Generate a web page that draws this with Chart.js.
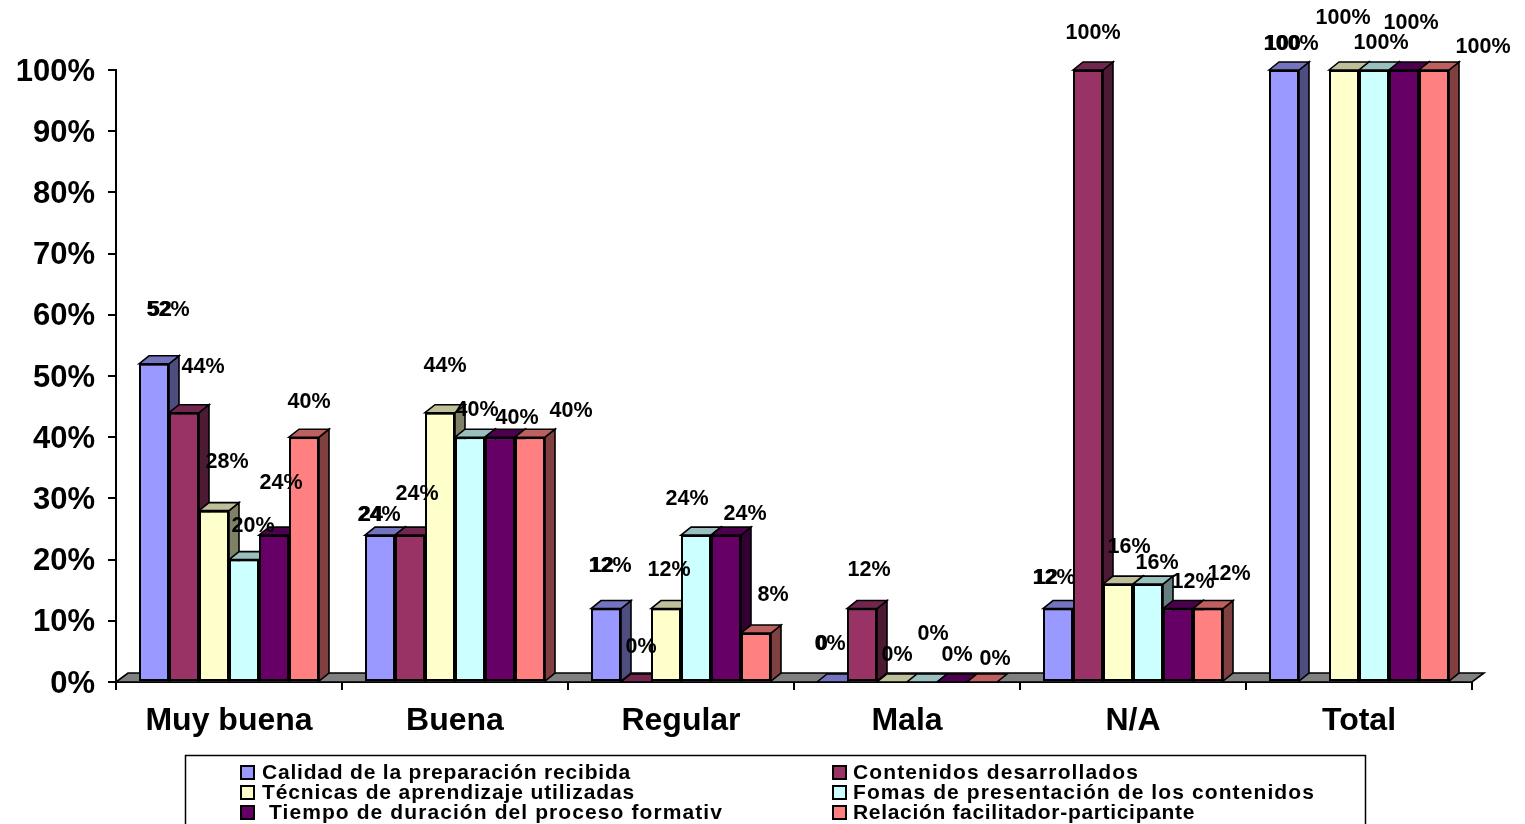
<!DOCTYPE html>
<html><head><meta charset="utf-8">
<script src="https://cdn.jsdelivr.net/npm/chart.js@4"></script>
<style>html,body{margin:0;padding:0;background:#fff;overflow:hidden}canvas{display:block}</style>
</head><body><canvas id="c" width="1525" height="824"></canvas>
<script>
const categories = ['Muy buena','Buena','Regular','Mala','N/A','Total'];
const seriesNames = ['Calidad de la preparación recibida','Contenidos desarrollados','Técnicas de aprendizaje utilizadas','Fomas de presentación de los contenidos',' Tiempo de duración del proceso formativ','Relación facilitador-participante'];
const calidad    = [52,24,12,0,12,100];
const contenidos = [44,24,0,12,100,null];
const tecnicas   = [28,44,12,0,16,100];
const formas     = [20,40,24,0,16,100];
const tiempo     = [24,40,24,0,12,100];
const relacion   = [40,40,8,0,12,100];
const seriesValues = [calidad,contenidos,tecnicas,formas,tiempo,relacion];
const seriesColors = ['#9999FF','#993366','#FFFFCC','#CCFFFF','#660066','#FF8080'];
const yTicks = [0,10,20,30,40,50,60,70,80,90,100];

// Hand-placed value label nudges from the top of each bar, as in the reference.
const labelNudges = [
  [[14,-54],[-1,-20],[4,-42],[-2,-38],[-4,-30],[7,-26]],
  [[19,-46],[7,-41],[5,-35],[7,-38],[5,-37],null],
  [[13,-49],[5,-47],[3,-38],[5,-27],[11,-37],[-1,-52]],
  [[9,-34],[7,-27],[-9,-36],[11,-48],[9,-21],[7,-27]],
  [[7,-52],[17,-19],[19,-21],[5,-27],[15,-26],[7,-47]],
  [[5,-35],[41,-26],[17,-38],[13,-23],[21,-34],[49,-23]]
];
const legendTextWidths = [369,286,373,462,461,342];
const DEPTH_X = 10, DEPTH_Y = 8, FLOOR_X = 12, FLOOR_Y = 9;
const FONT = '"Liberation Sans", Arial, sans-serif';

function shade(hex, k){
  const n = parseInt(hex.slice(1),16);
  return `rgb(${Math.round((n>>16&255)*k)},${Math.round((n>>8&255)*k)},${Math.round((n&255)*k)})`;
}
function poly(ctx, pts, fill){
  ctx.beginPath();
  pts.forEach((p,i)=> i?ctx.lineTo(p[0],p[1]):ctx.moveTo(p[0],p[1]));
  ctx.closePath();
  ctx.fillStyle = fill; ctx.fill();
  ctx.lineWidth = 1.6; ctx.strokeStyle = '#000'; ctx.lineJoin='miter'; ctx.stroke();
}
const bars3d = {
  id:'bars3d',
  beforeDraw(chart){
    chart.scales.y.getLabelItems().forEach(it=>{
      if(!it._moved){it.options.translation[1]+=2; it._moved=true;}
    });
  },
  beforeDatasetsDraw(chart){
    const {ctx, chartArea:a} = chart;
    ctx.save();
    poly(ctx, [[a.left,a.bottom],[a.left+FLOOR_X,a.bottom-FLOOR_Y],[a.right+FLOOR_X,a.bottom-FLOOR_Y],[a.right,a.bottom]], '#808080');
    ctx.restore();
  },
  afterDatasetsDraw(chart){
    const {ctx} = chart;
    ctx.save();
    // repaint left to right so each front hides the side of the bar before it
    seriesValues.forEach((vals,i)=>{
      const col = seriesColors[i];
      chart.getDatasetMeta(i).data.forEach((bar,j)=>{
        if (vals[j] === null) return;
        const half = bar.width/2, l = bar.x-half, r = bar.x+half, t = bar.y, b = bar.base;
        if (b > t) poly(ctx, [[r,t],[r+DEPTH_X,t-DEPTH_Y],[r+DEPTH_X,b-DEPTH_Y],[r,b]], shade(col,0.5));
        poly(ctx, [[l,t],[l+DEPTH_X,t-DEPTH_Y],[r+DEPTH_X,t-DEPTH_Y],[r,t]], shade(col,0.75));
        bar.draw(ctx);
      });
    });
    ctx.restore();
  },
  afterDraw(chart){
    const {ctx} = chart;
    ctx.save();
    // value labels
    ctx.font = 'bold 21.5px '+FONT;
    ctx.textBaseline='middle'; ctx.fillStyle='#000';
    seriesValues.forEach((vals,i)=>{
      const meta = chart.getDatasetMeta(i);
      vals.forEach((v,j)=>{
        if (v===null) return;
        const el = meta.data[j], n = labelNudges[i][j], txt = v+'%';
        const w = ctx.measureText(txt).width, x = el.x+n[0]-w/2, y = el.y+n[1];
        ctx.textAlign='left';
        ctx.fillText(txt, x, y);
        // the first series' digits are double-struck in the reference
        if (i===0) ctx.fillText(String(v), x+1.6, y);
      });
    });
    // legend
    ctx.fillStyle='#fff'; ctx.strokeStyle='#000'; ctx.lineWidth=1.5;
    ctx.fillRect(185.5,755.5,1180,80); ctx.strokeRect(185.5,755.5,1180,80);
    ctx.font='bold 21px '+FONT; ctx.textAlign='left';
    seriesNames.forEach((name,i)=>{
      const col = i%2, row = Math.floor(i/2);
      const y = 772+row*20, mx = col?833:241, tx = col?853:262;
      ctx.fillStyle=seriesColors[i]; ctx.fillRect(mx,y-6,13,13);
      ctx.strokeStyle='#000'; ctx.lineWidth=2; ctx.strokeRect(mx,y-6,13,13);
      ctx.letterSpacing='0px';
      const natural = ctx.measureText(name).width;
      ctx.letterSpacing=((legendTextWidths[i]-natural)/name.length).toFixed(3)+'px';
      ctx.fillStyle='#000'; ctx.fillText(name,tx,y+1);
    });
    ctx.restore();
  }
};
new Chart(document.getElementById('c'),{
  type:'bar',
  data:{labels:categories,datasets:seriesValues.map((v,i)=>({
    label:seriesNames[i],data:v,backgroundColor:seriesColors[i],borderColor:'#000',
    borderWidth:2,borderSkipped:false,clip:false,
    categoryPercentage:180/226,barPercentage:1
  }))},
  plugins:[bars3d],
  options:{
    responsive:false,animation:false,
    layout:{padding:{left:0,right:53,top:70,bottom:0}},
    plugins:{legend:{display:false},tooltip:{enabled:false}},
    scales:{
      x:{
        offset:true,
        grid:{offset:true,drawOnChartArea:false,drawTicks:true,tickLength:8,color:'#000',lineWidth:2},
        border:{color:'#000',width:2},
        ticks:{color:'#000',font:{family:FONT,size:32,weight:'bold'},padding:12,maxRotation:0,autoSkip:false},
        afterFit(s){s.height=142;}
      },
      y:{
        min:0,max:100,
        afterBuildTicks(s){s.ticks=yTicks.map(v=>({value:v}));},
        grid:{drawOnChartArea:false,drawTicks:true,tickLength:8,color:'#000',lineWidth:2},
        border:{color:'#000',width:2},
        ticks:{color:'#000',font:{family:FONT,size:31,weight:'bold'},padding:13,callback:v=>v+'%'},
        afterFit(s){s.width=116;}
      }
    }
  }
});
</script></body></html>
